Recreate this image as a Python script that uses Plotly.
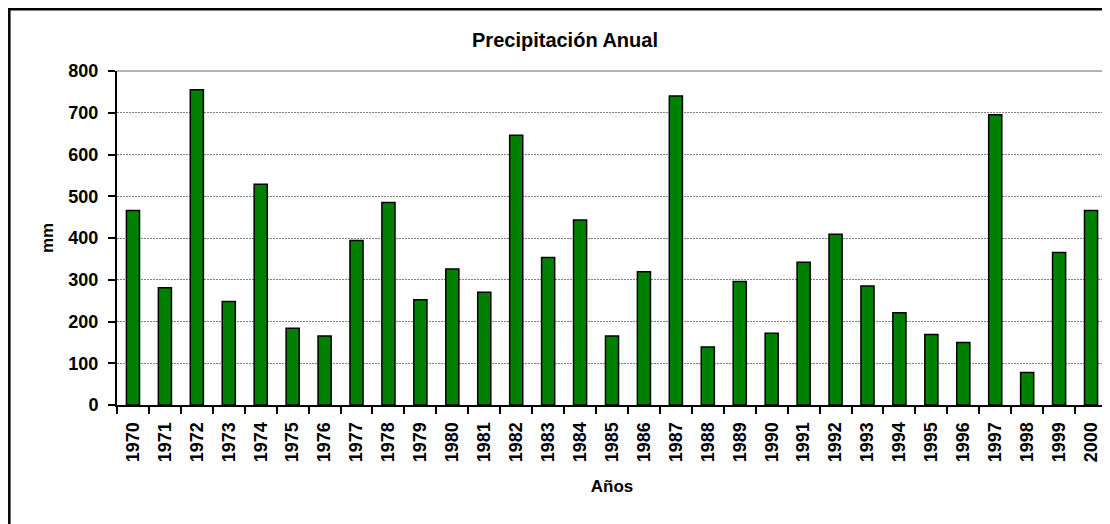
import plotly.graph_objects as go

years = [str(y) for y in range(1970, 2001)]
precip = [466, 281, 755, 248, 529, 184, 165, 394, 485, 252, 326, 270,
          646, 353, 443, 165, 319, 740, 139, 296, 172, 342,
          409, 285, 221, 169, 150, 695, 78, 365, 466]

FONT = "Arial, Liberation Sans, sans-serif"

fig = go.Figure()
fig.add_trace(go.Bar(
    x=years, y=precip, width=0.41,
    marker=dict(color="#008000", line=dict(color="#000000", width=1.5)),
))

# page body has an 8px margin, so the figure is placed at (8, 8)
OFF = 8
W, H = 1110 - OFF, 524 - OFF
L, R, T, B = 117 - OFF, 3, 71 - OFF, 119
pw, ph = W - L - R, H - T - B

fig.update_layout(
    width=W, height=H,
    margin=dict(l=L, r=R, t=T, b=B),
    paper_bgcolor="white", plot_bgcolor="white",
    showlegend=False,
    font=dict(family=FONT, color="black"),
    title=dict(text="<b>Precipitación Anual</b>", x=(565 - OFF) / W,
               xanchor="center", y=1 - (40 - OFF) / H, yanchor="middle",
               font=dict(size=20, family=FONT, color="black")),
    xaxis=dict(
        type="category", tickangle=-90, tickson="boundaries",
        ticks="outside", ticklen=7, tickwidth=1.5, tickcolor="black",
        showline=True, linecolor="black", linewidth=2,
        showgrid=False,
        tickfont=dict(size=18, family=FONT, color="black", weight="bold"),
        ticklabelstandoff=8,
        title=dict(text="<b>Años</b>", font=dict(size=17, family=FONT), standoff=19),
        range=[-0.5, 30.5],
    ),
    yaxis=dict(
        range=[0, 800], dtick=100, tick0=0,
        ticks="outside", ticklen=7, tickwidth=1.5, tickcolor="black",
        showline=True, linecolor="black", linewidth=2,
        showgrid=True, gridcolor="#808080", gridwidth=1, griddash="2px,1px",
        tickfont=dict(size=18, family=FONT, color="black", weight="bold"),
        ticklabelstandoff=6,
        title=dict(text="<b>mm</b>", font=dict(size=17, family=FONT), standoff=10),
        zeroline=False,
    ),
    bargap=0.59,
)

# grey right border of plot area and top line
fig.add_shape(type="line", xref="paper", yref="paper", x0=1, x1=1, y0=0, y1=1,
              line=dict(color="#9a9a9a", width=1.5))
fig.add_shape(type="line", xref="paper", yref="paper", x0=0, x1=1, y0=1, y1=1,
              line=dict(color="#9a9a9a", width=1.5))
# outer chart border (right & bottom edges lie outside the picture)
fx, fy = 1.3, 1.3  # figure-pixel position of the border's left/top edges
fig.add_shape(type="rect", xref="paper", yref="paper",
              x0=(fx - L) / pw, x1=1.2, y0=-0.6, y1=1 + (T - fy) / ph,
              line=dict(color="black", width=2.5), fillcolor="rgba(0,0,0,0)")

fig.write_html("out.html")
